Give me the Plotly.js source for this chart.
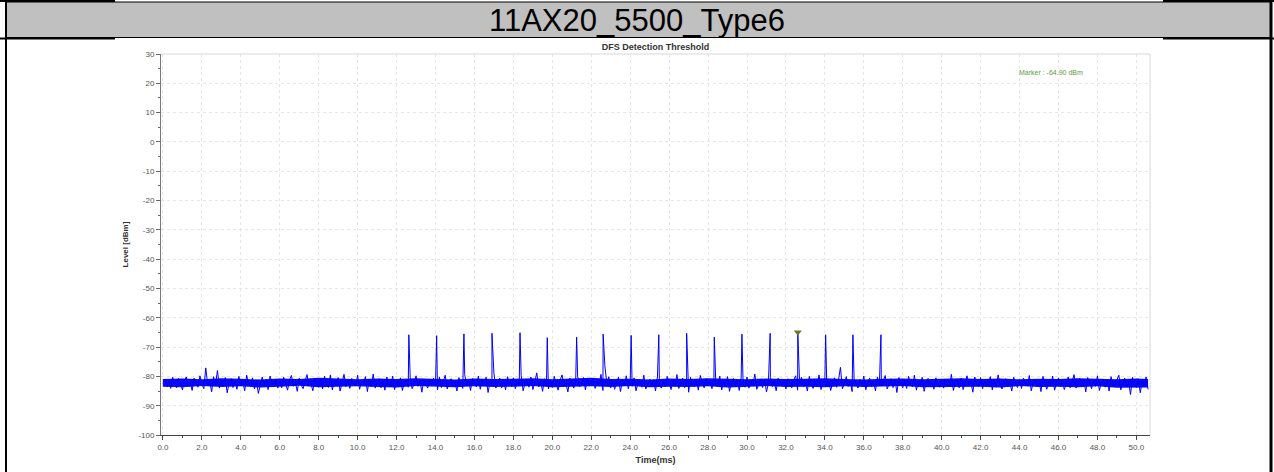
<!DOCTYPE html>
<html>
<head>
<meta charset="utf-8">
<script src="https://cdn.plot.ly/plotly-3.0.1.min.js"></script>
<style>
html,body{margin:0;padding:0;background:#fff;}
#chart{width:1274px;height:472px;}
</style>
</head>
<body>
<div id="chart"></div>
<script>
// ---------------- DATA ----------------
const headerTitle = '11AX20_5500_Type6';
const chartTitle = 'DFS Detection Threshold';
const xAxisTitle = 'Time(ms)';
const yAxisTitle = 'Level [dBm]';
const markerLabel = 'Marker : -64.90 dBm';

// noise floor samples (dBm), sampled every 0.1 ms starting at 0.0 ms
const noiseStartMs = 0.0;
const noiseStepMs = 0.1;
const noiseLevels = [
-82.4,-80.9,-83.6,-81.2,-84.1,-80.3,-82.8,-83.9,-80.7,-82.1,-84.6,-81.5,-80.2,-83.3,-82.0,-84.8,-80.6,-81.9,-83.7,-79.8,
-82.6,-84.2,-77.1,-83.0,-81.4,-85.3,-80.1,-82.9,-78.0,-84.0,-81.1,-83.5,-80.4,-85.6,-82.2,-80.8,-83.8,-81.6,-84.4,-80.0,
-83.1,-81.8,-84.9,-79.6,-82.5,-83.4,-80.5,-84.3,-81.3,-85.8,-82.7,-80.2,-83.2,-81.0,-84.5,-79.9,-82.3,-83.6,-80.9,-84.0,
-81.7,-83.9,-80.3,-82.8,-84.7,-81.2,-79.7,-83.4,-82.1,-85.1,-80.6,-82.9,-84.2,-81.5,-79.4,-83.3,-82.4,-84.9,-80.8,-82.0,
-83.7,-81.1,-84.3,-80.0,-82.6,-83.8,-79.5,-84.6,-81.9,-82.7,-80.4,-85.0,-82.2,-79.3,-83.5,-81.4,-84.1,-80.7,-82.9,-83.2,
-79.6,-84.4,-81.8,-82.5,-80.1,-85.2,-81.0,-83.6,-79.2,-84.0,-82.3,-80.8,-83.9,-81.3,-84.7,-80.2,-82.8,-83.1,-79.9,-84.5,
-81.6,-83.0,-80.5,-84.8,-82.0,-81.2,-83.7,-80.3,-84.2,-82.6,-79.8,-83.4,-81.5,-85.4,-80.9,-82.7,-84.0,-81.1,-83.3,-80.6,
-82.9,-84.6,-80.2,-83.8,-81.7,-79.6,-84.3,-82.1,-80.8,-83.5,-81.9,-85.0,-80.4,-82.4,-84.1,-79.4,-83.2,-81.3,-84.8,-80.7,
-82.5,-83.6,-79.9,-84.4,-81.0,-82.8,-80.3,-85.5,-81.8,-83.1,-78.9,-84.0,-82.2,-80.6,-83.9,-81.4,-84.6,-80.1,-82.7,-83.4,
-80.5,-84.2,-81.6,-83.0,-79.7,-84.9,-82.3,-81.1,-83.7,-80.2,-84.5,-82.0,-78.8,-83.6,-81.5,-85.1,-80.8,-82.9,-84.3,-81.2,
-83.8,-80.0,-82.6,-84.7,-81.3,-79.5,-83.2,-82.4,-85.3,-80.6,-82.1,-84.0,-81.7,-79.9,-83.5,-82.8,-80.4,-84.6,-81.0,-83.3,
-82.2,-80.7,-84.1,-81.8,-83.0,-79.3,-84.8,-76.4,-82.5,-80.1,-83.9,-81.4,-84.4,-82.0,-80.3,-85.2,-81.6,-83.1,-79.8,-84.2,
-81.9,-83.4,-80.5,-84.9,-82.3,-81.0,-83.7,-79.6,-84.3,-82.6,-80.9,-83.2,-81.2,-85.0,-80.2,-82.8,-84.0,-81.5,-83.6,-80.0,
-82.4,-84.5,-81.1,-83.3,-79.4,-84.1,-82.0,-80.6,-83.8,-81.7,-85.4,-80.3,-82.9,-83.5,-81.3,-84.7,-79.7,-82.2,-83.9,-80.8,
-83.0,-81.6,-84.2,-80.4,-82.7,-83.6,-79.9,-84.6,-81.8,-82.5,-80.1,-85.1,-82.1,-80.7,-83.4,-81.2,-84.8,-80.5,-82.8,-83.7,
-80.2,-84.0,-81.5,-83.1,-79.2,-84.4,-82.6,-81.0,-83.8,-80.9,-85.3,-82.3,-80.4,-83.5,-81.9,-84.9,-80.6,-82.0,-83.2,-81.4,
-84.3,-80.8,-82.5,-83.9,-81.1,-79.8,-84.7,-82.2,-80.3,-83.6,-81.7,-85.0,-80.0,-82.9,-84.1,-81.3,-83.0,-79.5,-84.5,-82.4,
-80.7,-83.3,-81.8,-84.8,-82.0,-80.5,-83.7,-81.2,-76.9,-84.2,-82.7,-80.1,-83.4,-81.6,-85.2,-80.9,-82.3,-84.0,-81.0,-83.1,
-79.9,-84.6,-82.1,-80.6,-83.5,-81.9,-84.9,-80.2,-82.8,-83.2,-81.4,-79.7,-84.3,-82.5,-80.8,-83.8,-81.1,-85.5,-80.4,-82.6,
-83.9,-81.3,-84.1,-80.0,-82.4,-83.6,-79.6,-84.7,-81.7,-82.9,-80.3,-85.1,-81.9,-80.7,-83.3,-82.2,-84.4,-80.5,-82.0,-83.7,
-81.5,-84.0,-80.9,-82.7,-83.4,-79.3,-84.8,-82.1,-81.0,-83.9,-80.6,-84.5,-82.3,-79.8,-83.1,-81.8,-85.4,-80.2,-82.8,-83.5,
-80.4,-84.2,-81.6,-83.0,-82.5,-80.1,-84.6,-81.2,-83.7,-79.5,-82.9,-84.3,-81.4,-80.8,-83.6,-82.0,-85.0,-80.3,-82.6,-83.8,
-81.1,-84.1,-80.6,-82.4,-83.3,-79.7,-84.9,-82.2,-80.9,-83.5,-81.7,-85.2,-80.0,-82.7,-84.4,-81.3,-83.0,-79.9,-84.7,-82.1,
-80.5,-83.6,-81.9,-84.5,-82.3,-80.2,-83.9,-81.5,-79.4,-84.0,-82.8,-80.7,-83.2,-81.0,-85.3,-80.4,-82.5,-84.2,-81.6,-83.4,
-79.8,-84.8,-82.0,-80.9,-83.7,-81.4,-85.0,-80.1,-82.9,-83.1,-81.2,-79.6,-84.6,-82.4,-80.6,-83.5,-81.8,-86.2,-80.3,-82.7,
-83.8,-80.8,-85.6,-81.7,-83.0,-80.2,-84.4
];

// dense core of the noise band (dBm), one value per 1.0 ms from 0 ms
const coreStepMs = 1.0;
const coreUpper = [
-80.9,-80.7,-81.0,-80.6,-80.8,-81.1,-80.7,-80.9,-80.5,-80.8,-81.0,-80.7,-80.9,-80.6,-80.8,-81.1,-80.7,-80.9,-80.8,-80.6,
-81.0,-80.7,-80.5,-80.9,-80.8,-81.1,-80.7,-80.9,-80.6,-80.8,-81.0,-80.7,-80.9,-80.8,-80.6,-80.9,-81.1,-80.8,-80.7,-81.0,
-80.8,-80.6,-80.9,-80.7,-81.0,-80.8,-80.9,-80.6,-80.8,-81.0,-80.7,-80.9
];
const coreLower = [
-83.5,-83.7,-83.3,-83.6,-83.4,-83.8,-83.5,-83.2,-83.7,-83.5,-83.4,-83.6,-83.8,-83.3,-83.5,-83.7,-83.4,-83.6,-83.5,-83.3,
-83.7,-83.5,-83.4,-83.6,-83.3,-83.7,-83.5,-83.6,-83.4,-83.8,-83.5,-83.3,-83.6,-83.5,-83.7,-83.4,-83.6,-83.5,-83.3,-83.7,
-83.6,-83.4,-83.5,-83.8,-83.3,-83.6,-83.5,-83.7,-83.4,-83.9,-83.7,-83.8
];

// radar pulses
const pulseTimesMs = [12.63,14.06,15.46,16.90,18.34,19.74,21.25,22.61,24.05,25.47,26.90,28.32,29.74,31.19,32.61,34.04,35.44,36.88];
const pulseLevels  = [-65.8,-66.1,-65.5,-65.3,-65.1,-66.8,-66.6,-65.6,-66.0,-65.8,-65.3,-66.6,-65.6,-65.3,-64.9,-65.8,-65.8,-65.8];

// marker
const markerTimeMs = 32.61;
const markerLevel = -64.9;
const markerLabelPos = {x: 45.6, y: 23.8};

// axes
const xTickVals = [0,2,4,6,8,10,12,14,16,18,20,22,24,26,28,30,32,34,36,38,40,42,44,46,48,50];
const yTickVals = [-100,-90,-80,-70,-60,-50,-40,-30,-20,-10,0,10,20,30];
const yTickText = ['-100','-90','-80','-70','-60','-50','-40','-30','-20','-10','0','10','20','30'];

// ---------------- BUILD ----------------
const pts = noiseLevels.map((v, i) => ({t: +(noiseStartMs + i * noiseStepMs).toFixed(3), v: v}));
pulseTimesMs.forEach((t, i) => pts.push({t: t, v: pulseLevels[i]}));
pts.sort((a, b) => a.t - b.t);
const lastNoiseT = pts[pts.length - 1].t;
const coreTimes = coreUpper.map((_, i) => Math.min(i * coreStepMs, lastNoiseT));

const W = 1274, H = 472;
const plotL = 161, plotR = 1150, plotT = 54, plotB = 435;
const px2x = p => (p - plotL) / (plotR - plotL);
const px2y = p => (plotB - p) / (plotB - plotT);

const shapes = [
  {type:'rect', xref:'paper', yref:'paper', x0:px2x(6), x1:px2x(1271), y0:px2y(37.5), y1:px2y(2), fillcolor:'#c0c0c0', line:{width:0}, layer:'below'},
  {type:'line', xref:'paper', yref:'paper', x0:px2x(6), x1:px2x(1271), y0:px2y(2), y1:px2y(2), line:{color:'#000', width:1}},
  {type:'line', xref:'paper', yref:'paper', x0:px2x(6), x1:px2x(1271), y0:px2y(37.5), y1:px2y(37.5), line:{color:'#000', width:1}},
  {type:'line', xref:'paper', yref:'paper', x0:px2x(0), x1:px2x(115), y0:px2y(1), y1:px2y(1), line:{color:'#000', width:2}},
  {type:'line', xref:'paper', yref:'paper', x0:px2x(0), x1:px2x(115), y0:px2y(38.5), y1:px2y(38.5), line:{color:'#000', width:2}},
  {type:'line', xref:'paper', yref:'paper', x0:px2x(1163), x1:px2x(1274), y0:px2y(1), y1:px2y(1), line:{color:'#000', width:2}},
  {type:'line', xref:'paper', yref:'paper', x0:px2x(1163), x1:px2x(1274), y0:px2y(38.5), y1:px2y(38.5), line:{color:'#000', width:2}},
  {type:'line', xref:'paper', yref:'paper', x0:px2x(6), x1:px2x(6), y0:px2y(0), y1:px2y(H), line:{color:'#000', width:2}},
  {type:'line', xref:'paper', yref:'paper', x0:px2x(1271), x1:px2x(1271), y0:px2y(0), y1:px2y(H), line:{color:'#000', width:3}},
  {type:'line', xref:'paper', yref:'paper', x0:0, x1:1, y0:1, y1:1, line:{color:'#d8d8d8', width:1}},
  {type:'line', xref:'paper', yref:'paper', x0:1, x1:1, y0:0, y1:1, line:{color:'#d8d8d8', width:1}}
];

const traces = [
  {
    x: coreTimes, y: coreUpper, type: 'scatter', mode: 'lines',
    line: {color: 'rgba(0,0,255,0)', width: 0}, hoverinfo: 'skip', showlegend: false
  },
  {
    x: coreTimes, y: coreLower, type: 'scatter', mode: 'lines', fill: 'tonexty',
    fillcolor: '#0a0af5', line: {color: 'rgba(0,0,255,0)', width: 0}, hoverinfo: 'skip', showlegend: false
  },
  {
    x: pts.map(p => p.t), y: pts.map(p => p.v),
    type: 'scatter', mode: 'lines',
    line: {color: '#0000ff', width: 1},
    hoverinfo: 'skip', showlegend: false
  },
  {
    x: [markerTimeMs], y: [markerLevel],
    type: 'scatter', mode: 'markers',
    marker: {symbol: 'triangle-down', size: 7, color: '#6b7a2a'},
    hoverinfo: 'skip', showlegend: false
  }
];

const tickFont = {family: 'Liberation Sans, Arial, sans-serif', size: 8, color: '#555'};

const layout = {
  width: W, height: H,
  margin: {l: plotL, r: W - plotR, t: plotT, b: H - plotB, pad: 0},
  paper_bgcolor: '#ffffff', plot_bgcolor: '#ffffff',
  showlegend: false,
  title: {
    text: '<b>' + chartTitle + '</b>',
    font: {family: 'Liberation Sans, Arial, sans-serif', size: 9, color: '#333'},
    xref: 'paper', x: 0.5, xanchor: 'center',
    yref: 'container', y: 1 - 47 / H, yanchor: 'middle'
  },
  xaxis: {
    range: [-0.1, 50.7],
    tickvals: xTickVals, tickformat: '.1f',
    ticks: 'outside', ticklen: 4, tickcolor: '#444', tickwidth: 1,
    minor: {dtick: 1, tick0: 0, ticks: 'outside', ticklen: 2, tickcolor: '#444', showgrid: false},
    showline: true, linecolor: '#444', linewidth: 1,
    showgrid: true, gridcolor: '#e6e6e6', griddash: 'dot', gridwidth: 1,
    zeroline: false,
    tickfont: tickFont,
    title: {text: '<b>' + xAxisTitle + '</b>', font: {family: 'Liberation Sans, Arial, sans-serif', size: 9, color: '#333'}, standoff: 6},
    automargin: false
  },
  yaxis: {
    range: [-100, 30],
    tickvals: yTickVals, ticktext: yTickText,
    ticks: 'outside', ticklen: 4, tickcolor: '#666', tickwidth: 1,
    minor: {dtick: 5, tick0: 0, ticks: 'outside', ticklen: 2, tickcolor: '#666', showgrid: false},
    showline: true, linecolor: '#777', linewidth: 1,
    showgrid: true, gridcolor: '#e6e6e6', griddash: 'dot', gridwidth: 1,
    zeroline: false,
    tickfont: tickFont,
    title: {text: '<b>' + yAxisTitle + '</b>', font: {family: 'Liberation Sans, Arial, sans-serif', size: 8, color: '#333'}, standoff: 8},
    automargin: false
  },
  shapes: shapes,
  annotations: [
    {
      text: headerTitle, xref: 'paper', yref: 'paper',
      x: px2x(637), y: px2y(20), xanchor: 'center', yanchor: 'middle',
      showarrow: false,
      font: {family: 'Liberation Sans, Arial, sans-serif', size: 31, color: '#000'}
    },
    {
      text: markerLabel, xref: 'x', yref: 'y',
      x: markerLabelPos.x, y: markerLabelPos.y, xanchor: 'center', yanchor: 'middle',
      showarrow: false,
      font: {family: 'Liberation Sans, Arial, sans-serif', size: 7, color: '#5d9a45'}
    }
  ]
};

Plotly.newPlot('chart', traces, layout, {staticPlot: true, displayModeBar: false});
</script>
</body>
</html>
